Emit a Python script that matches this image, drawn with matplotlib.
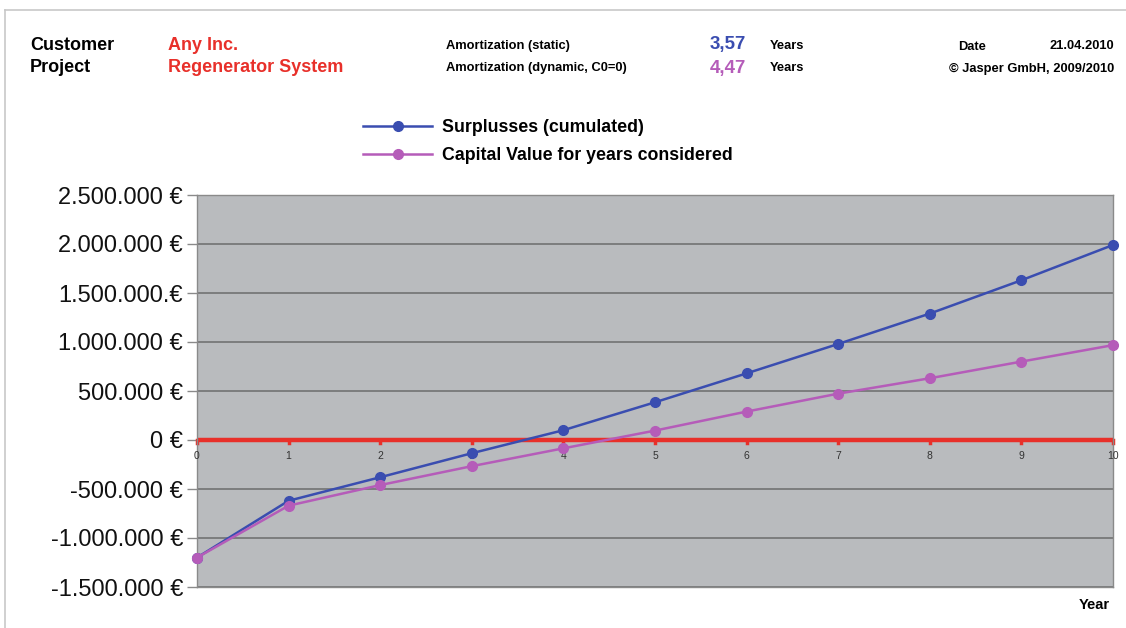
import matplotlib.pyplot as plt
from matplotlib.lines import Line2D
from matplotlib.ticker import FixedLocator

plt.rcParams["font.family"] = ["Liberation Sans", "DejaVu Sans"]

# amortization data, values in EUR
years = list(range(11))
surplus = [-1200000, -620000, -380000, -135000, 100000, 385000,
           680000, 980000, 1290000, 1630000, 1990000]
capital = [-1200000, -670000, -460000, -267000, -85000, 96000,
           290000, 473000, 630000, 800000, 968000]

y_ticks = [-1500000, -1000000, -500000, 0, 500000, 1000000, 1500000,
           2000000, 2500000]
y_labels = ["-1.500.000 €", "-1.000.000 €", "-500.000 €", "0 €",
            "500.000 €", "1.000.000 €", "1.500.000.€", "2.000.000 €",
            "2.500.000 €"]

series_names = ["Surplusses (cumulated)", "Capital Value for years considered"]
amort_static = "3,57"
amort_dynamic = "4,47"

blue = "#3a4db0"
purple = "#b55cb9"
red = "#e8302a"
grey_bg = "#b9bbbe"

W, H = 1126, 628
fig = plt.figure(figsize=(W / 100, H / 100), dpi=100)
fig.patch.set_facecolor("white")

# outer frame (top and left edge)
fig.add_artist(Line2D([5 / W, 5 / W], [0, 1 - 10 / H], transform=fig.transFigure,
                      color="#c8c8c8", lw=1.2))
fig.add_artist(Line2D([5 / W, 1], [1 - 10 / H, 1 - 10 / H], transform=fig.transFigure,
                      color="#c8c8c8", lw=1.2))

ax = fig.add_axes([197 / W, 1 - 587 / H, (1113 - 197) / W, (587 - 195) / H])
ax.set_facecolor(grey_bg)
ax.set_xlim(0, 10)
ax.set_ylim(-1500000, 2500000)

ax.yaxis.set_major_locator(FixedLocator(y_ticks))
ax.set_yticklabels(y_labels, fontsize=17, color="#111111")
ax.tick_params(axis="y", length=7, width=1, color="#8a8a8a", pad=3)
ax.grid(axis="y", color="#6c6c6c", lw=1.1)
ax.set_axisbelow(True)

ax.set_xticks([])
for side in ["left", "right", "top", "bottom"]:
    ax.spines[side].set_color("#8a8a8a")
    ax.spines[side].set_linewidth(1.0)

# zero line with small year ticks and labels
ax.axhline(0, color=red, lw=3.2, zorder=2)
for yr in years:
    ax.plot([yr, yr], [0, -30000], color=red, lw=2.5, zorder=2, clip_on=False)
    ax.annotate(str(yr), (yr, 0), xytext=(0, -8), textcoords="offset points",
                ha="center", va="top", fontsize=7.5, color="#333333")

ax.plot(years, surplus, color=blue, lw=1.8, marker="o", ms=7, zorder=3,
        clip_on=False, label=series_names[0])
ax.plot(years, capital, color=purple, lw=1.8, marker="o", ms=7, zorder=3,
        clip_on=False, label=series_names[1])

ax.legend(loc="lower left", bbox_to_anchor=(354 / W, 1 - 173 / H),
          bbox_transform=fig.transFigure, frameon=False,
          prop={"weight": "bold", "size": 12.8}, handlelength=3.9,
          handletextpad=0.55, labelspacing=0.62, borderpad=0)

fig.text(1110 / W, 1 - 605 / H, "Year", ha="right", va="center",
         fontsize=10.5, fontweight="bold")

# header block
hy1, hy2 = 1 - 45 / H, 1 - 67 / H
fig.text(30 / W, hy1, "Customer", fontsize=13, fontweight="bold", va="center")
fig.text(30 / W, hy2, "Project", fontsize=13, fontweight="bold", va="center")
fig.text(168 / W, hy1, "Any Inc.", fontsize=13, fontweight="bold",
         color=red, va="center")
fig.text(168 / W, hy2, "Regenerator System", fontsize=13, fontweight="bold",
         color=red, va="center")

fig.text(446 / W, 1 - 46 / H, "Amortization (static)", fontsize=9.3,
         fontweight="bold", va="center")
fig.text(446 / W, 1 - 68 / H, "Amortization (dynamic, C0=0)", fontsize=9.3,
         fontweight="bold", va="center")
fig.text(746 / W, 1 - 45 / H, amort_static, fontsize=13.5, fontweight="bold",
         color=blue, ha="right", va="center")
fig.text(746 / W, 1 - 68 / H, amort_dynamic, fontsize=13.5, fontweight="bold",
         color=purple, ha="right", va="center")
fig.text(770 / W, 1 - 46 / H, "Years", fontsize=9.3, fontweight="bold", va="center")
fig.text(770 / W, 1 - 68 / H, "Years", fontsize=9.3, fontweight="bold", va="center")

fig.text(958 / W, 1 - 47 / H, "Date", fontsize=9.3, fontweight="bold", va="center")
fig.text(1114 / W, 1 - 46 / H, "21.04.2010", fontsize=9.3, fontweight="bold",
         ha="right", va="center")
fig.text(1114 / W, 1 - 69 / H, "© Jasper GmbH, 2009/2010", fontsize=9.3,
         fontweight="bold", ha="right", va="center")

fig.savefig("out.png", dpi=100, facecolor="white")
